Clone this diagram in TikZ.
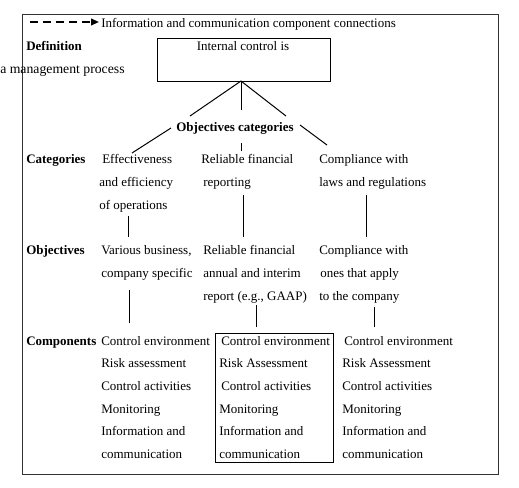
\documentclass[tikz,border=0pt]{standalone}
\usepackage{fontspec}
\setmainfont{Liberation Serif}
\usetikzlibrary{arrows.meta}
\begin{document}
\begin{tikzpicture}[x=0.75pt,y=-0.75pt,
  txt/.style={anchor=base west,inner sep=0pt,font=\fontsize{9.75pt}{11pt}\selectfont},
  hdr/.style={txt,font=\fontsize{9.75pt}{11pt}\selectfont\bfseries},
  conn/.style={draw=black,line width=0.75pt},
  frame/.style={draw=black!80,line width=0.75pt}]
\useasboundingbox (0,0) rectangle (519,487);
% outer frame
\node[frame,anchor=north west,inner sep=0pt,minimum width=357pt,minimum height=345pt] (outer) at (22,14) {};
% legend
\coordinate (lgA) at (30,22);
\coordinate (lgB) at (99,22);
\draw[draw=black,line width=1.3pt,dash pattern=on 6pt off 3.75pt,-{Triangle[length=6pt,width=5pt]}] (lgA) -- (lgB);
\node[txt] (legend) at (101,27) {Information and communication component connections};
% definition
\node[hdr] (defn) at (26,50) {Definition};
\node[txt,font=\fontsize{10.3pt}{11pt}\selectfont] (mgmt) at (0,73) {a management process};
\node[draw,line width=0.75pt,anchor=north west,inner sep=0pt,minimum width=129.75pt,minimum height=32.25pt] (icbox) at (157,38) {};
\node[anchor=base,inner sep=0pt,font=\fontsize{9.75pt}{11pt}\selectfont] (ictext) at (243,50) {Internal control is};
\coordinate (icb) at (241,81);
\coordinate (fl) at (190,116);
\coordinate (fc) at (241,110);
\coordinate (fr) at (286,116);
\draw[conn] (icb) -- (fl);
\draw[conn] (icb) -- (fc);
\draw[conn] (icb) -- (fr);
% objectives categories
\node[anchor=base,inner sep=0pt,font=\fontsize{9.75pt}{11pt}\selectfont\bfseries] (objcat) at (235,131) {Objectives categories};
\coordinate (ocl) at (171,128);
\coordinate (ocl2) at (132,153);
\coordinate (ocr) at (300,125);
\coordinate (ocr2) at (327,145);
\coordinate (occ) at (241,143);
\coordinate (occ2) at (241,151);
\draw[conn] (ocl) -- (ocl2);
\draw[conn] (ocr) -- (ocr2);
\draw[conn] (occ) -- (occ2);
% categories row
\node[hdr] (cathdr) at (26,163) {Categories};
\node[txt] (c1a) at (102,163) {Effectiveness};
\node[txt] (c1b) at (99,186) {and efficiency};
\node[txt] (c1c) at (99,209) {of operations};
\node[txt] (c2a) at (201,163) {Reliable financial};
\node[txt] (c2b) at (203,186) {reporting};
\node[txt] (c3a) at (319,163) {Compliance with};
\node[txt] (c3b) at (319,186) {laws and regulations};
% connectors categories -> objectives
\coordinate (v1a) at (128,216); \coordinate (v1b) at (128,237);
\coordinate (v2a) at (243,195); \coordinate (v2b) at (243,237);
\coordinate (v3a) at (366,195); \coordinate (v3b) at (366,237);
\draw[conn] (v1a) -- (v1b);
\draw[conn] (v2a) -- (v2b);
\draw[conn] (v3a) -- (v3b);
% objectives row
\node[hdr] (objhdr) at (26,254) {Objectives};
\node[txt] (o1a) at (101,254) {Various business,};
\node[txt] (o1b) at (101,277) {company specific};
\node[txt] (o2a) at (203,254) {Reliable financial};
\node[txt] (o2b) at (203,277) {annual and interim};
\node[txt] (o2c) at (203,300) {report (e.g., GAAP)};
\node[txt] (o3a) at (319,254) {Compliance with};
\node[txt] (o3b) at (320,277) {ones that apply};
\node[txt] (o3c) at (319,300) {to the company};
% connectors objectives -> components
\coordinate (w1a) at (129,290); \coordinate (w1b) at (129,323);
\coordinate (w2a) at (256,305); \coordinate (w2b) at (256,327);
\coordinate (w3a) at (374,307); \coordinate (w3b) at (374,327);
\draw[conn] (w1a) -- (w1b);
\draw[conn] (w2a) -- (w2b);
\draw[conn] (w3a) -- (w3b);
% components row
\node[hdr] (comphdr) at (26,345) {Components};
\node[txt] (k1a) at (101,345) {Control environment};
\node[txt] (k1b) at (101,367) {Risk assessment};
\node[txt] (k1c) at (101,390) {Control activities};
\node[txt] (k1d) at (101,413) {Monitoring};
\node[txt] (k1e) at (101,435) {Information and};
\node[txt] (k1f) at (101,458) {communication};
\node[draw,line width=0.75pt,anchor=north west,inner sep=0pt,minimum width=88.5pt,minimum height=96.75pt] (k2box) at (215,333) {};
\node[txt] (k2a) at (221,345) {Control environment};
\node[txt] (k2b) at (219,367) {Risk Assessment};
\node[txt] (k2c) at (221,390) {Control activities};
\node[txt] (k2d) at (219,413) {Monitoring};
\node[txt] (k2e) at (219,435) {Information and};
\node[txt] (k2f) at (219,458) {communication};
\node[txt] (k3a) at (344,345) {Control environment};
\node[txt] (k3b) at (342,367) {Risk Assessment};
\node[txt] (k3c) at (342,390) {Control activities};
\node[txt] (k3d) at (342,413) {Monitoring};
\node[txt] (k3e) at (342,435) {Information and};
\node[txt] (k3f) at (342,458) {communication};
\end{tikzpicture}
\end{document}
